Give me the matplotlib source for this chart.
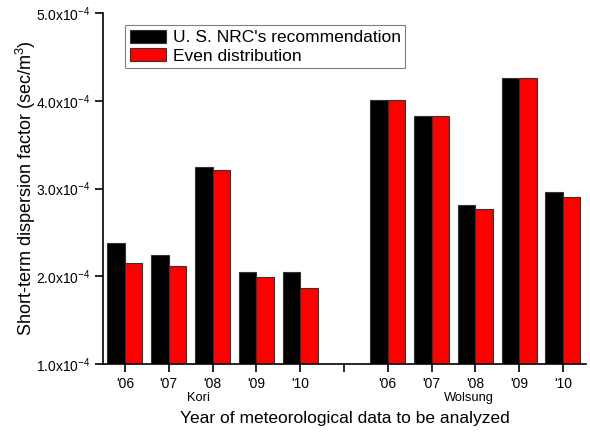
import matplotlib
matplotlib.use("Agg")
import matplotlib.pyplot as plt
import numpy as np

plt.rcParams['font.family'] = ['Liberation Sans', 'DejaVu Sans']
plt.rcParams['mathtext.default'] = 'regular'

# values, in units of 1e-4 sec/m^3
years = ["'06", "'07", "'08", "'09", "'10"]
kori_nrc = [2.38, 2.24, 3.25, 2.05, 2.05]
kori_even = [2.15, 2.12, 3.21, 1.99, 1.87]
wolsung_nrc = [4.01, 3.83, 2.81, 4.26, 2.96]
wolsung_even = [4.01, 3.83, 2.77, 4.26, 2.90]
y_ticks = [1.0, 2.0, 3.0, 4.0, 5.0]

# Kori at positions 0-4, empty slot at 5, Wolsung at 6-10
x_kori = np.arange(5)
x_wol = np.arange(6, 11)
xpos = np.concatenate([x_kori, x_wol])
nrc = np.array(kori_nrc + wolsung_nrc) * 1e-4
even = np.array(kori_even + wolsung_even) * 1e-4

fig = plt.figure(figsize=(5.9, 4.32), dpi=100)
ax = fig.add_axes([0.1754, 0.1574, 0.8173, 0.8125])

w = 0.4
ax.bar(xpos, nrc, width=-w, align='edge', color='black',
       edgecolor='#333333', linewidth=0.8, label="U. S. NRC's recommendation")
ax.bar(xpos, even, width=w, align='edge', color='#ff0000',
       edgecolor='#333333', linewidth=0.8, label='Even distribution')

ax.set_xlim(-0.49, 10.52)
ax.set_ylim(1e-4, 5e-4)
ax.set_xticks(np.arange(11))
ax.set_xticklabels(years + [''] + years, fontsize=10)
ax.set_yticks([v * 1e-4 for v in y_ticks])
ax.set_yticklabels(['%.1fx10$^{-4}$' % v for v in y_ticks], fontsize=10)

for s in ['top', 'right']:
    ax.spines[s].set_visible(False)
for s in ['left', 'bottom']:
    ax.spines[s].set_linewidth(1.2)
ax.tick_params(direction='out', length=6, width=1.2, pad=3)

ax.text(1.68, -0.097, 'Kori', transform=ax.get_xaxis_transform(),
        ha='center', va='center', fontsize=9.3)
ax.text(7.85, -0.097, 'Wolsung', transform=ax.get_xaxis_transform(),
        ha='center', va='center', fontsize=9.3)

ax.set_xlabel('Year of meteorological data to be analyzed', fontsize=12.5, labelpad=15)
ax.set_ylabel('Short-term dispersion factor (sec/m$^{3}$)', fontsize=13, labelpad=-1)

leg = ax.legend(loc='upper left', bbox_to_anchor=(0.045, 0.965), fontsize=12.5,
                fancybox=False, edgecolor='gray', framealpha=1,
                handlelength=2.1, handleheight=0.8, handletextpad=0.4,
                borderpad=0.25, labelspacing=0.15, borderaxespad=0)
leg.get_frame().set_linewidth(0.8)

fig.savefig('out.png', dpi=100)
